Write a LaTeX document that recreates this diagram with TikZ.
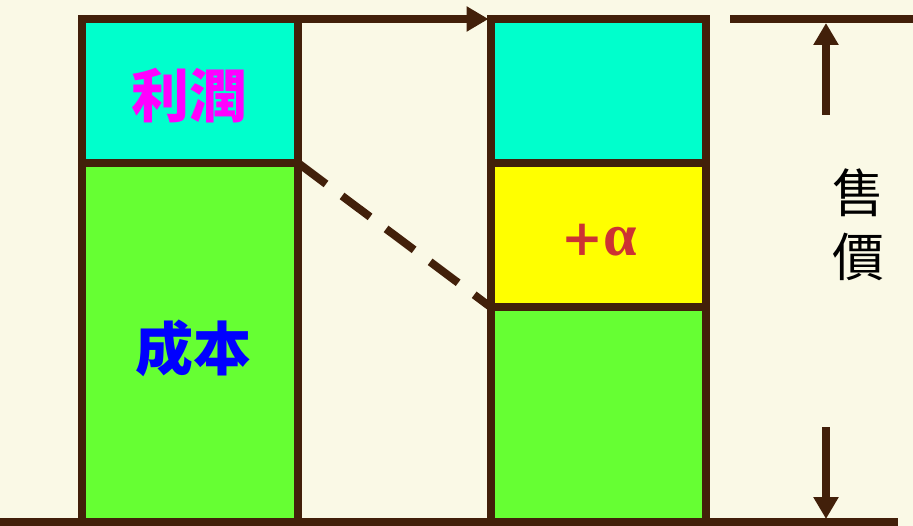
\documentclass[tikz,border=0pt]{standalone}
\usepackage{fontspec}
\usetikzlibrary{arrows.meta}
\newfontfamily\cjk{Noto Sans CJK TC}
\newfontfamily\serifgr{Liberation Serif}
\newfontfamily\plusfont{DejaVu Serif}
\definecolor{bgc}{HTML}{FAF9E6}
\definecolor{edge}{HTML}{42200A}
\definecolor{teal}{HTML}{00FFCC}
\definecolor{grn}{HTML}{66FF33}
\definecolor{ylw}{HTML}{FFFF00}
\definecolor{mag}{HTML}{FF00FF}
\definecolor{blu}{HTML}{0000FF}
\definecolor{redt}{HTML}{CC3333}
\tikzset{
  box/.style={draw=edge, line width=8pt, inner sep=0pt, outer sep=0pt, anchor=north west},
  rule/.style={draw=edge, line width=8pt},
  lbl/.style={inner sep=0pt, font=\cjk\bfseries\fontsize{58}{58}\selectfont},
  arr/.style={draw=edge, line width=8pt, -{Triangle[length=22pt,width=24pt]}},
}
\begin{document}
\begin{tikzpicture}[x=1pt,y=-1pt]
\fill[bgc] (0,0) rectangle (913,526);
\useasboundingbox (0,0) rectangle (913,526);
% left column
\node[box, fill=teal, minimum width=216pt, minimum height=144pt] (lp) at (82,19) {};
\node[box, fill=grn, minimum width=216pt, minimum height=359pt] (lc) at (82,163) {};
% right column
\node[box, fill=teal, minimum width=215.5pt, minimum height=144pt] (rp) at (490.5,19) {};
\node[box, fill=ylw, minimum width=215.5pt, minimum height=144pt] (ra) at (490.5,163) {};
\node[box, fill=grn, minimum width=215.5pt, minimum height=215pt] (rc) at (490.5,307) {};
% rules
\coordinate (bl) at (0,522);
\coordinate (br) at (898,522);
\draw[rule] (bl) -- (br);
\coordinate (tl) at (730,19);
\coordinate (tr) at (913,19);
\draw[rule] (tl) -- (tr);
% top arrow
\draw[arr] (lp.north east) -- ([xshift=-2pt]rp.north west);
% dashed
\draw[rule, dash pattern=on 35pt off 20pt] (lp.south east) -- (rc.north west);
% price arrows
\coordinate (ua) at (826,115);
\coordinate (ut) at (826,23);
\draw[arr] (ua) -- (ut);
\coordinate (da) at (826,427);
\coordinate (dt) at (826,519);
\draw[arr] (da) -- (dt);
% labels
\node[lbl, text=mag] (tp) at (189,96) {利潤};
\node[lbl, text=blu] (tc) at (193,348) {成本};
\node[inner sep=0pt, text=redt, font=\serifgr\bfseries\fontsize{60}{60}\selectfont] (ta) at (599,240) {{\plusfont\bfseries\fontsize{50}{50}\selectfont +}α};
\node[inner sep=0pt, font=\cjk\fontsize{52}{64}\selectfont, align=center] (tx) at (858,225) {售\\價};
\end{tikzpicture}
\end{document}
